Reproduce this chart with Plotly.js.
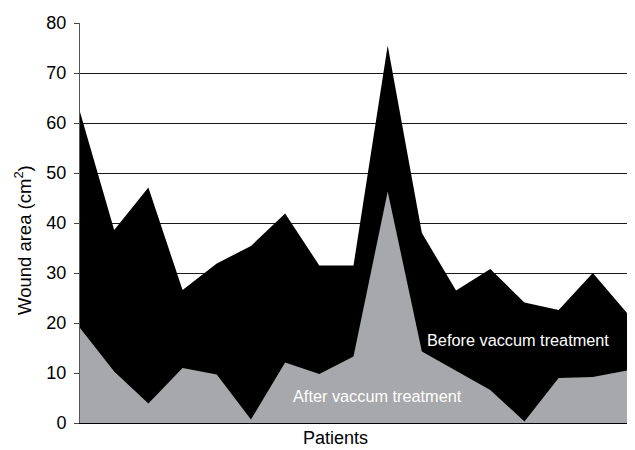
<!DOCTYPE html>
<html>
<head>
<meta charset="utf-8">
<script src="https://cdn.plot.ly/plotly-3.0.1.min.js"></script>
<style>html,body{margin:0;padding:0;background:#fff;}#chart{width:635px;height:450px;}</style>
</head>
<body>
<div id="chart"></div>
<script>
const patients = [1,2,3,4,5,6,7,8,9,10,11,12,13,14,15,16,17];
const beforeArea = [62.2, 38.6, 47.1, 26.6, 31.9, 35.4, 41.9, 31.5, 31.5, 75.5, 38.0, 26.5, 30.8, 24.1, 22.6, 30.0, 22.0];
const afterArea = [19.0, 10.3, 3.9, 11.0, 9.7, 0.7, 12.1, 9.8, 13.3, 46.3, 14.3, 10.5, 6.6, 0.3, 9.0, 9.2, 10.5];
const yTicks = [0,10,20,30,40,50,60,70,80];
const labels = {y: 'Wound area (cm<sup>2</sup>)', x: 'Patients', before: 'Before vaccum treatment', after: 'After vaccum treatment'};

const font = {family: '"Liberation Sans", Arial, Helvetica, sans-serif', color: '#000'};

const traces = [
  {x: patients, y: beforeArea, type: 'scatter', mode: 'lines', fill: 'tozeroy',
   fillcolor: '#000000', line: {width: 0, color: '#000'}, hoverinfo: 'none', name: labels.before},
  {x: patients, y: afterArea, type: 'scatter', mode: 'lines', fill: 'tozeroy',
   fillcolor: '#a7a8ab', line: {width: 0, color: '#a7a8ab'}, hoverinfo: 'none', name: labels.after}
];

const layout = {
  width: 635, height: 450,
  margin: {l: 80, r: 8, t: 23, b: 27},
  paper_bgcolor: '#fff', plot_bgcolor: '#fff',
  showlegend: false,
  font: Object.assign({size: 18}, font),
  xaxis: {
    range: [1, 17], showticklabels: false, ticks: '', showgrid: false, zeroline: false,
    showline: true, linecolor: '#000', linewidth: 1
  },
  yaxis: {
    range: [0, 80], tickvals: yTicks, ticktext: yTicks.map(String),
    ticks: 'outside', ticklen: 5, tickcolor: '#444', tickwidth: 1, ticklabelstandoff: 4,
    showline: true, linecolor: '#555', linewidth: 1,
    showgrid: true, gridcolor: '#1a1a1a', gridwidth: 1, zeroline: false,
    tickfont: Object.assign({size: 18}, font)
  },
  annotations: [
    {x: (23 - 80) / 547, y: (423 - 240) / 400, xref: 'paper', yref: 'paper', text: labels.y,
     textangle: -90, showarrow: false, xanchor: 'center', yanchor: 'middle',
     font: Object.assign({size: 18.5}, font)},
    {x: (335 - 80) / 547, y: (423 - 438) / 400, xref: 'paper', yref: 'paper', text: labels.x,
     showarrow: false, xanchor: 'center', yanchor: 'middle', borderpad: 0,
     font: Object.assign({size: 18}, font)},
    {x: 13.81, y: 16.6, xref: 'x', yref: 'y', text: labels.before, showarrow: false,
     font: Object.assign({}, font, {size: 16.3, color: '#fff'})},
    {x: 9.69, y: 5.4, xref: 'x', yref: 'y', text: labels.after, showarrow: false,
     font: Object.assign({}, font, {size: 16.3, color: '#fff'})}
  ]
};

Plotly.newPlot('chart', traces, layout, {displayModeBar: false, staticPlot: true});
</script>
</body>
</html>
